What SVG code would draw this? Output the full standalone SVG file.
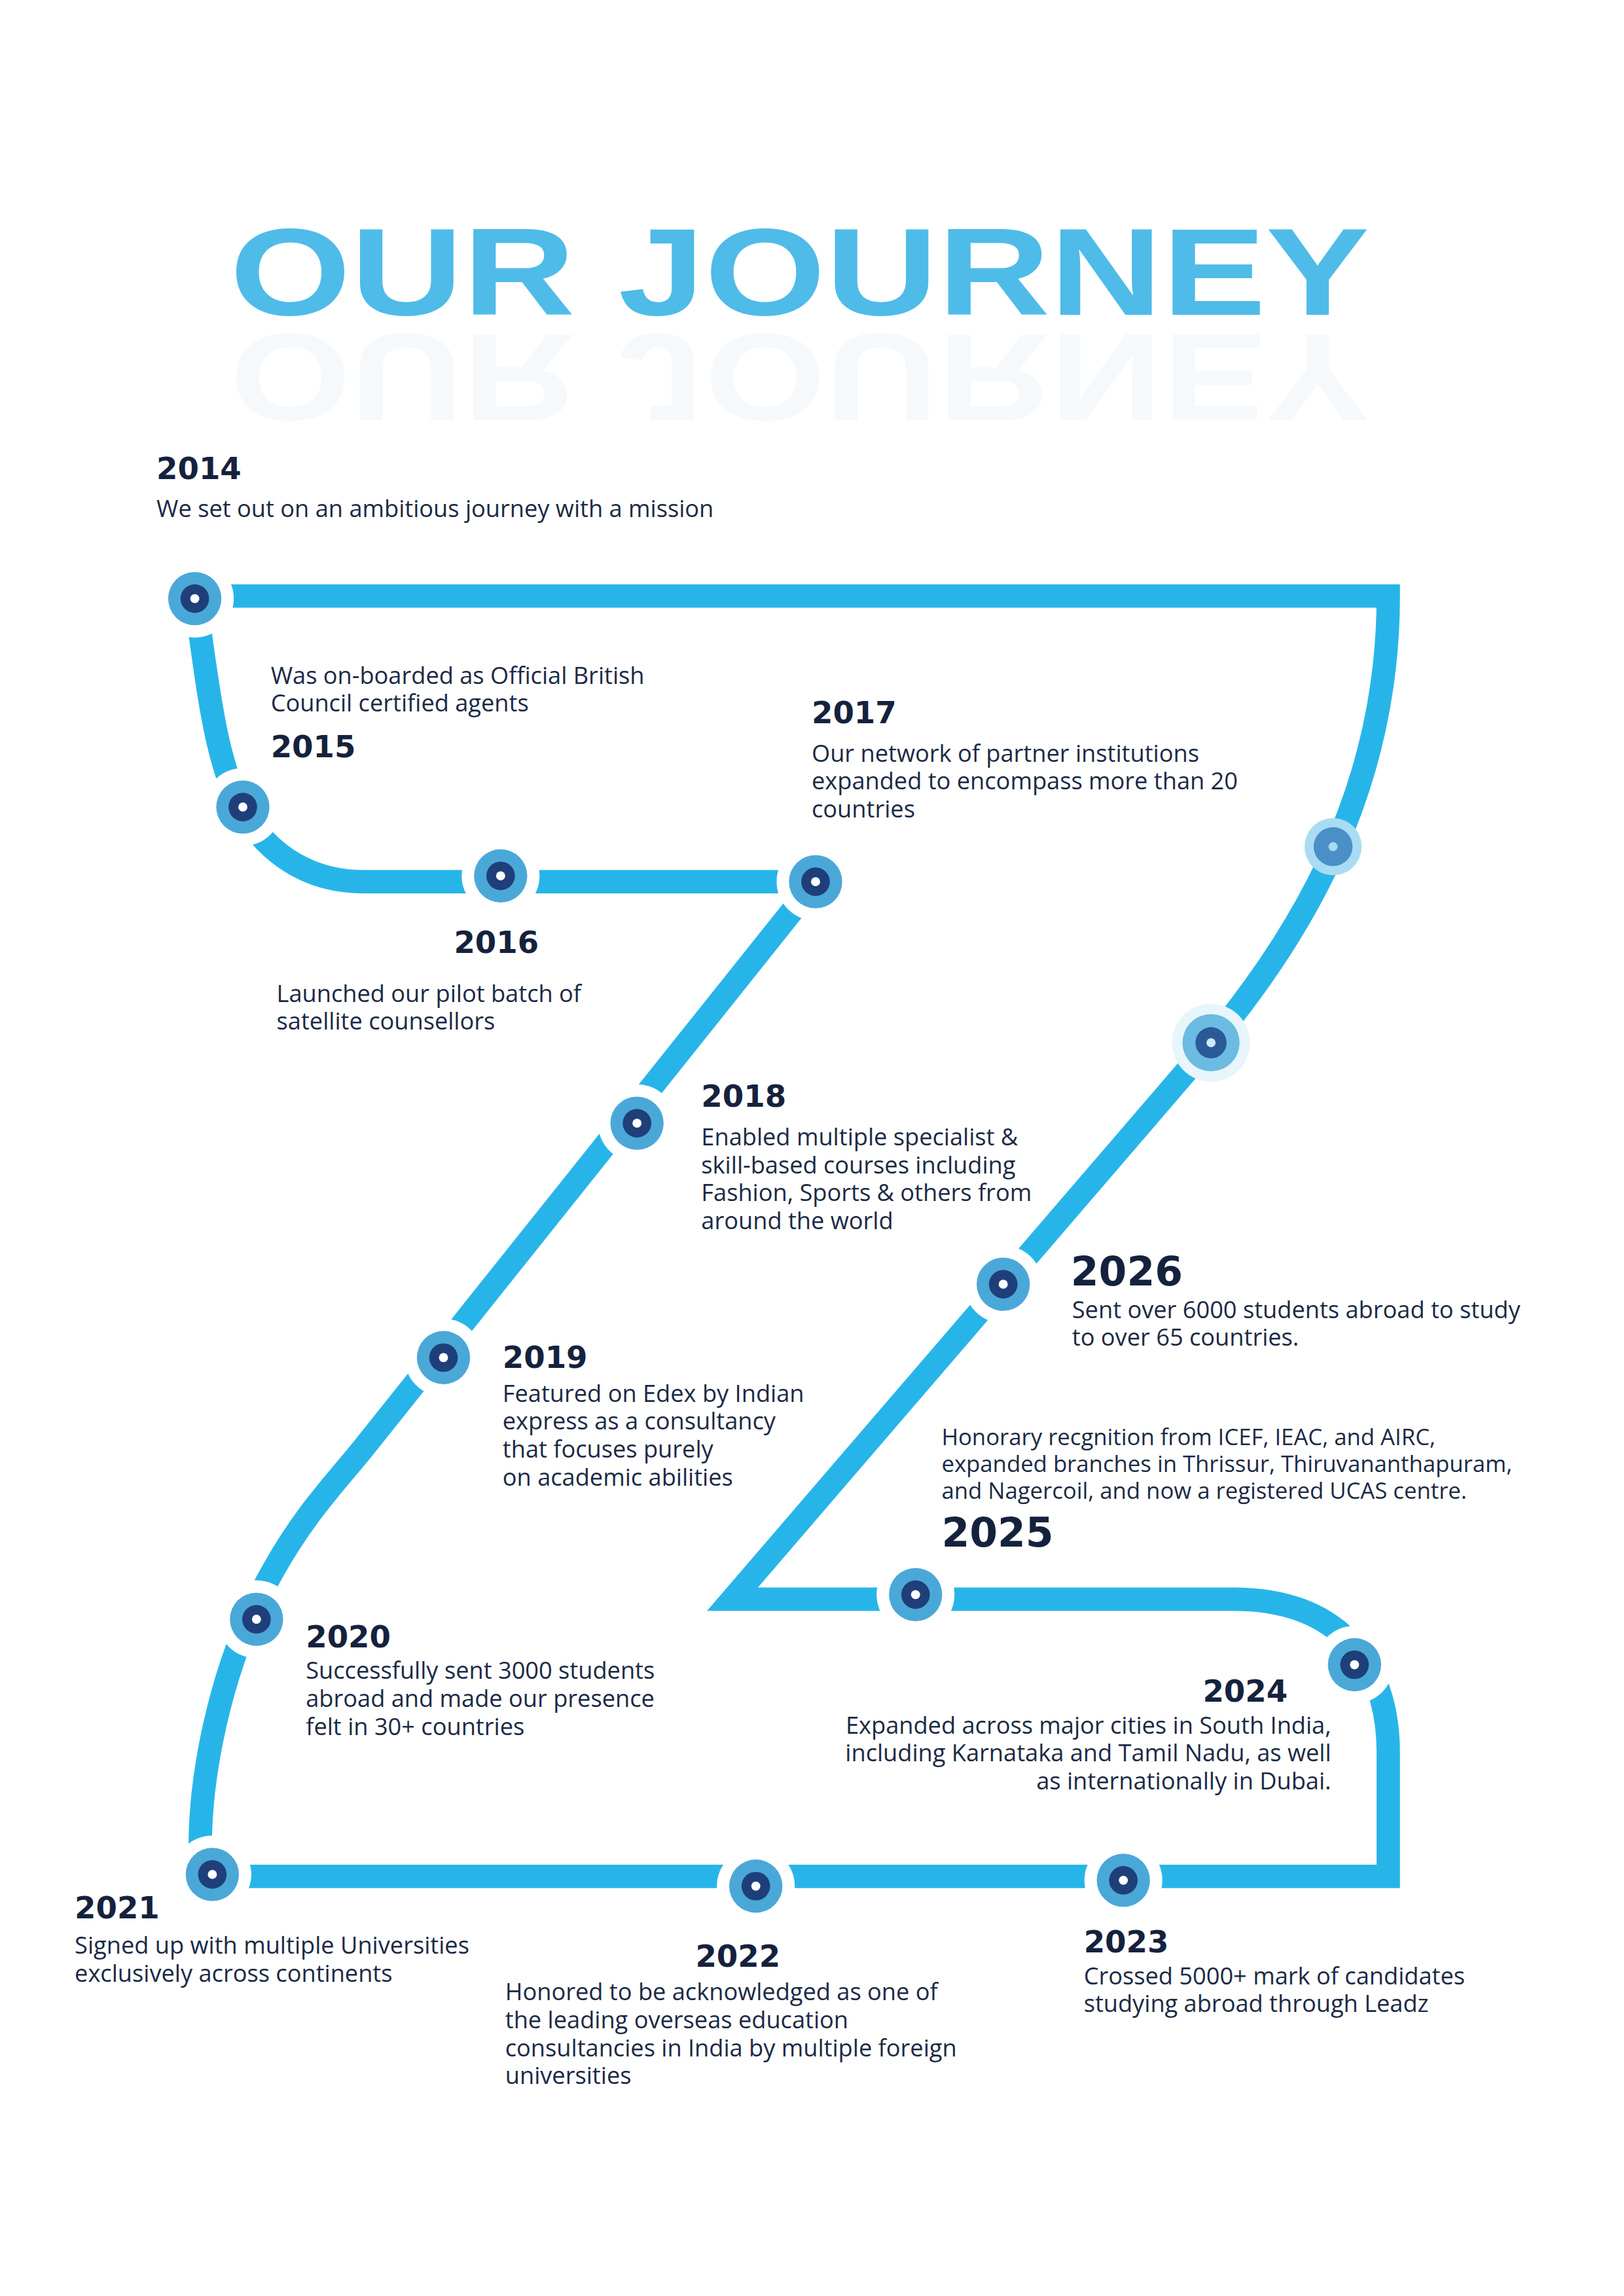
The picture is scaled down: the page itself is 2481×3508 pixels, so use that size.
<svg xmlns="http://www.w3.org/2000/svg" width="2481" height="3508" viewBox="0 0 2481 3508">
<defs>
<style>
.yr{font-family:"DejaVu Sans",sans-serif;font-weight:bold;font-size:47px;fill:#15223d}
.yb{font-family:"DejaVu Sans",sans-serif;font-weight:bold;font-size:62px;fill:#15223d}
.tx{font-family:"Open Sans","Liberation Sans",sans-serif;font-size:36.5px;fill:#1b2a45}
.ts{font-family:"Open Sans","Liberation Sans",sans-serif;font-size:35px;fill:#1b2a45}
.halo{fill:#fff}
.o{fill:#4aa8d8}
.i{fill:#1f3f7a}
.d{fill:#fff}
</style>
<g id="nd"><circle class="halo" r="60"/><circle class="o" r="41"/><circle class="i" r="22"/><circle class="d" r="7"/></g>
</defs>
<rect width="2481" height="3508" fill="#fff"/>
<g transform="scale(0.992)">
<g id="title">
<text x="354" y="485" font-family="Liberation Sans,sans-serif" font-weight="bold" font-size="190" fill="#4fbbe8" textLength="1755" lengthAdjust="spacingAndGlyphs">OUR JOURNEY</text>
<text transform="translate(0,1000) scale(1,-1)" x="354" y="485" font-family="Liberation Sans,sans-serif" font-weight="bold" font-size="190" fill="#f6f9fc" textLength="1755" lengthAdjust="spacingAndGlyphs">OUR JOURNEY</text>
</g>
<g id="connectors">
<path d="M 300 918 H 2138 C 2138 1200 2020 1420 1865 1606 L 1128 2463 H 1900 C 2060 2463 2138 2560 2138 2700 V 2890 H 310 C 300 2750 340 2560 420 2420 C 470 2330 520 2280 560 2230 L 1256 1358 H 560 C 480 1358 420 1320 380 1260 C 330 1180 320 1050 300 918" fill="none" stroke="#27b5e9" stroke-width="36" stroke-linejoin="miter"/>
</g>
<g id="n2014"><use href="#nd" x="300" y="922"/></g>
<g id="n2015"><use href="#nd" x="374" y="1243"/></g>
<g id="n2016"><use href="#nd" x="771" y="1349"/></g>
<g id="n2017a"><use href="#nd" x="1256" y="1358"/></g>
<g id="n2017b"><circle r="44" cx="2053" cy="1304" fill="#a9dcf2"/><circle r="30" cx="2053" cy="1304" fill="#4a8fc8"/><circle r="7" cx="2053" cy="1304" fill="#a9dcf2"/></g>
<g id="n2026a"><circle r="60" cx="1865" cy="1606" fill="#e8f5fb"/><circle r="44" cx="1865" cy="1606" fill="#6cbbe2"/><circle r="24" cx="1865" cy="1606" fill="#2a5a98"/><circle r="7" cx="1865" cy="1606" fill="#cfe9f7"/></g>
<g id="n2026"><use href="#nd" x="1545" y="1978"/></g>
<g id="n2018"><use href="#nd" x="981" y="1730"/></g>
<g id="n2019"><use href="#nd" x="683" y="2091"/></g>
<g id="n2020"><use href="#nd" x="395" y="2494"/></g>
<g id="n2025"><use href="#nd" x="1410" y="2456"/></g>
<g id="n2024"><use href="#nd" x="2086" y="2564"/></g>
<g id="n2021"><use href="#nd" x="327" y="2887"/></g>
<g id="n2022"><use href="#nd" x="1164" y="2905"/></g>
<g id="n2023"><use href="#nd" x="1730" y="2896"/></g>

<g id="t2014"><text class="yr" x="241" y="738">2014</text><text class="tx" x="241" y="796">We set out on an ambitious journey with a mission</text></g>
<g id="t2015"><text class="tx" x="417" y="1053">Was on-boarded as Official British</text><text class="tx" x="417" y="1096">Council certified agents</text><text class="yr" x="417" y="1166">2015</text></g>
<g id="t2017"><text class="yr" x="1250" y="1114">2017</text><text class="tx" x="1250" y="1173">Our network of partner institutions</text><text class="tx" x="1250" y="1216">expanded to encompass more than 20</text><text class="tx" x="1250" y="1259">countries</text></g>
<g id="t2016"><text class="yr" x="699" y="1468">2016</text><text class="tx" x="426" y="1543">Launched our pilot batch of</text><text class="tx" x="426" y="1586">satellite counsellors</text></g>
<g id="t2018"><text class="yr" x="1080" y="1705">2018</text><text class="tx" x="1080" y="1764">Enabled multiple specialist &amp;</text><text class="tx" x="1080" y="1807">skill-based courses including</text><text class="tx" x="1080" y="1850">Fashion, Sports &amp; others from</text><text class="tx" x="1080" y="1893">around the world</text></g>
<g id="t2026"><text class="yb" x="1649" y="1980">2026</text><text class="tx" x="1651" y="2030">Sent over 6000 students abroad to study</text><text class="tx" x="1651" y="2073">to over 65 countries.</text></g>
<g id="t2019"><text class="yr" x="774" y="2107">2019</text><text class="tx" x="774" y="2159">Featured on Edex by Indian</text><text class="tx" x="774" y="2202">express as a consultancy</text><text class="tx" x="774" y="2245">that focuses purely</text><text class="tx" x="774" y="2288">on academic abilities</text></g>
<g id="t2025"><text class="ts" x="1450" y="2226">Honorary recgnition from ICEF, IEAC, and AIRC,</text><text class="ts" x="1450" y="2267">expanded branches in Thrissur, Thiruvananthapuram,</text><text class="ts" x="1450" y="2308">and Nagercoil, and now a registered UCAS centre.</text><text class="yb" x="1450" y="2382">2025</text></g>
<g id="t2020"><text class="yr" x="471" y="2537">2020</text><text class="tx" x="471" y="2586">Successfully sent 3000 students</text><text class="tx" x="471" y="2629">abroad and made our presence</text><text class="tx" x="471" y="2672">felt in 30+ countries</text></g>
<g id="t2024" text-anchor="end"><text class="yr" x="1983" y="2621">2024</text><text class="tx" x="2050" y="2670">Expanded across major cities in South India,</text><text class="tx" x="2050" y="2713">including Karnataka and Tamil Nadu, as well</text><text class="tx" x="2050" y="2756">as internationally in Dubai.</text></g>
<g id="t2021"><text class="yr" x="115" y="2955">2021</text><text class="tx" x="115" y="3009">Signed up with multiple Universities</text><text class="tx" x="115" y="3052">exclusively across continents</text></g>
<g id="t2022"><text class="yr" x="1071" y="3029">2022</text><text class="tx" x="778" y="3081">Honored to be acknowledged as one of</text><text class="tx" x="778" y="3124">the leading overseas education</text><text class="tx" x="778" y="3167">consultancies in India by multiple foreign</text><text class="tx" x="778" y="3210">universities</text></g>
<g id="t2023"><text class="yr" x="1669" y="3007">2023</text><text class="tx" x="1669" y="3056">Crossed 5000+ mark of candidates</text><text class="tx" x="1669" y="3099">studying abroad through Leadz</text></g>
</g>
</svg>
